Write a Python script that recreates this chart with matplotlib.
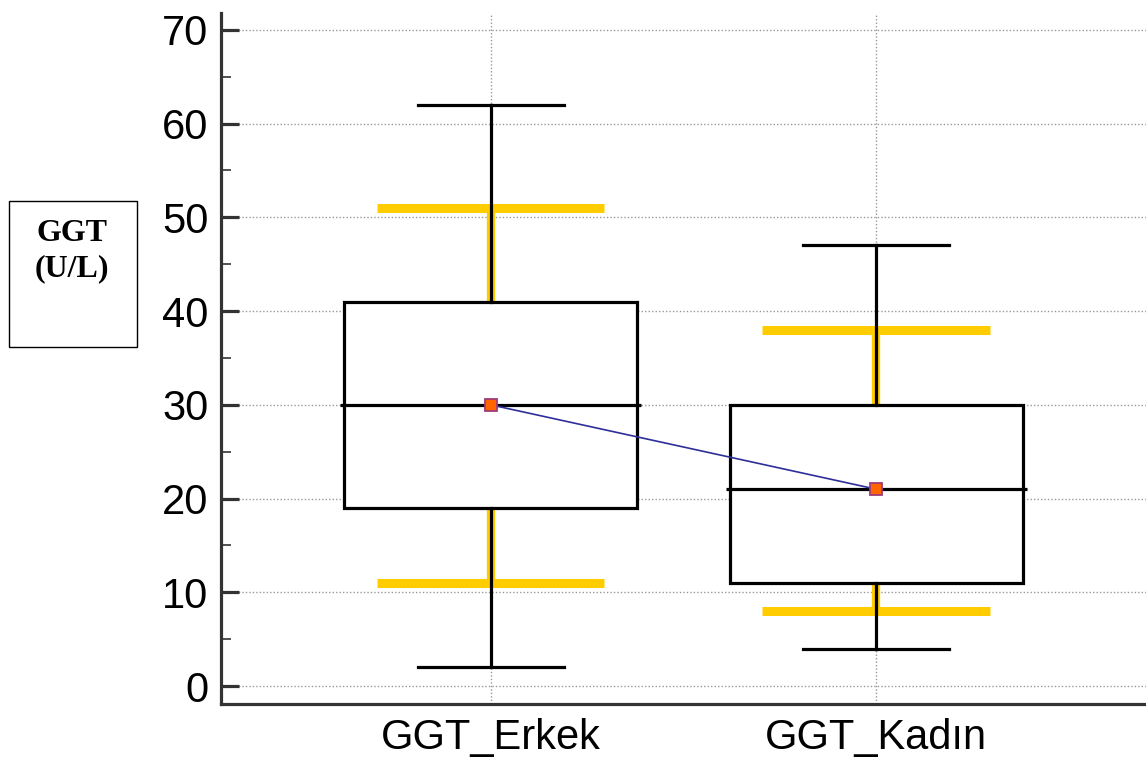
import matplotlib.pyplot as plt
from matplotlib.patches import Rectangle

plt.rcParams['font.family'] = ['Liberation Sans', 'DejaVu Sans']

groups = ["GGT_Erkek", "GGT_Kadın"]
q1 = [19, 11]
median = [30, 21]
q3 = [41, 30]
whisk_lo = [2, 4]
whisk_hi = [62, 47]
ref_lo = [11, 8]
ref_hi = [51, 38]
means = [30, 21]

pos = [1, 2]

fig = plt.figure(figsize=(11.46, 7.65), dpi=100)
ax = fig.add_axes([0.1928, 0.0797, 0.8072, 0.9033])

# yellow reference bars behind the boxes
for i, p in enumerate(pos):
    ax.vlines(p, ref_lo[i], q1[i], color="#FFCC00", lw=6, zorder=2)
    ax.vlines(p, q3[i], ref_hi[i], color="#FFCC00", lw=6, zorder=2)
    ax.hlines([ref_lo[i], ref_hi[i]], p - 0.295, p + 0.295, color="#FFCC00", lw=6.5, zorder=2)

stats = []
for i, g in enumerate(groups):
    stats.append(dict(label=g, q1=q1[i], med=median[i], q3=q3[i],
                      whislo=whisk_lo[i], whishi=whisk_hi[i], fliers=[]))

ax.bxp(stats, positions=pos, widths=0.76, capwidths=0.38, patch_artist=True,
       showfliers=False, manage_ticks=False,
       boxprops=dict(facecolor="white", edgecolor="black", lw=2.3, zorder=3),
       whiskerprops=dict(color="black", lw=2.3, zorder=3),
       capprops=dict(color="black", lw=2.3, zorder=3),
       medianprops=dict(lw=0))

ax.hlines(median, [p - 0.39 for p in pos], [p + 0.39 for p in pos],
          color="black", lw=2.3, zorder=4)

ax.plot(pos, means, color="#2e2e9a", lw=1.2, marker="s", ms=9,
        markerfacecolor="#FF6600", markeredgecolor="#9e3d78", markeredgewidth=1.3, zorder=5)

ax.set_xlim(0.3, 2.7)
ax.set_ylim(-1.92, 71.8)
ax.set_xticks(pos)
ax.set_xticklabels(groups)
ax.set_yticks(range(0, 71, 10))
ax.set_yticks(range(5, 70, 10), minor=True)

ax.grid(True, which="major", ls=(0, (1, 1.5)), color="#999999", lw=1, zorder=0)
ax.set_axisbelow(True)

for s in ["top", "right"]:
    ax.spines[s].set_visible(False)
for s in ["left", "bottom"]:
    ax.spines[s].set_linewidth(2.3)
    ax.spines[s].set_color("#333333")

ax.tick_params(axis="y", which="major", direction="in", length=13, width=2.3,
               color="#333333", labelsize=30, pad=9)
ax.tick_params(axis="y", which="minor", direction="in", length=7, width=1.2, color="#333333")
ax.tick_params(axis="x", length=0, labelsize=30, pad=10)

# y axis caption in a framed box
fig.patches.append(Rectangle((9 / 1146, 1 - 347 / 765), 128 / 1146, 146 / 765,
                             transform=fig.transFigure, fill=False,
                             edgecolor="black", lw=1))
fig.text(72 / 1146, 1 - 219 / 765, "GGT\n(U/L)", ha="center", va="top",
         family=["Liberation Serif"], weight="bold", fontsize=23, linespacing=1.3)

fig.savefig("out.png", dpi=100)
